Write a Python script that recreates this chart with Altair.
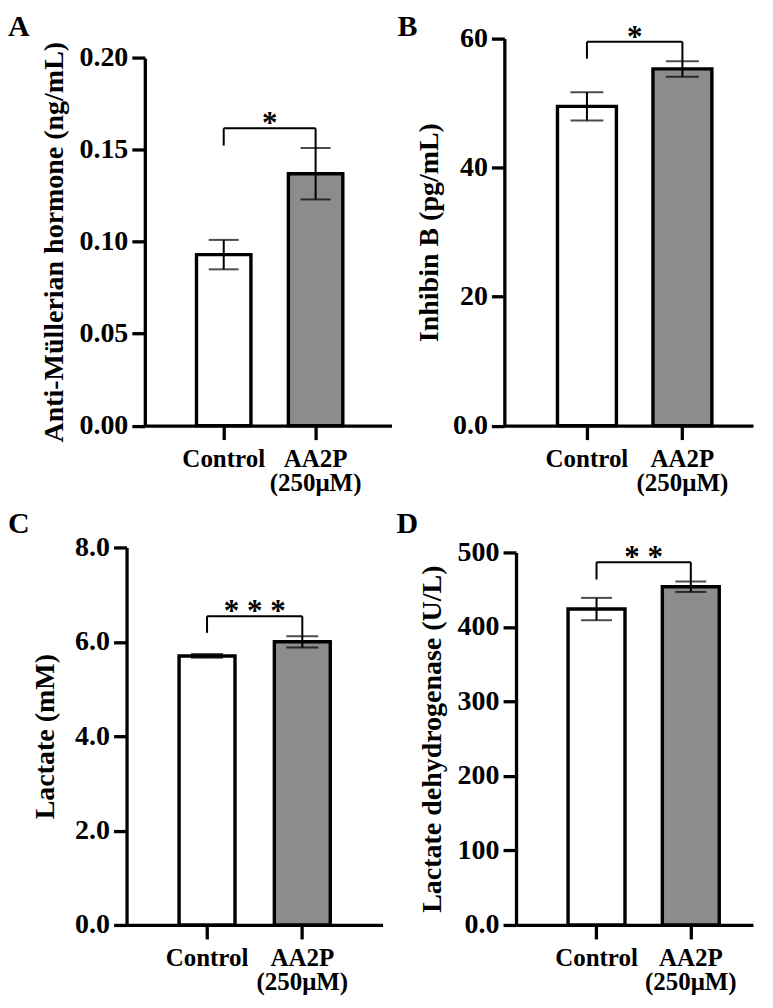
import altair as alt
import pandas as pd

FONT = "Liberation Serif"

categories = ["Control", "AA2P (250μM)"]
fills = ["#ffffff", "#8c8c8c"]

amh_mean = [0.093, 0.137]
amh_sem = [0.008, 0.014]
inh_mean = [49.5, 55.3]
inh_sem = [2.2, 1.2]
lac_mean = [5.70, 6.00]
lac_sem = [0.04, 0.12]
ldh_mean = [424, 454]
ldh_sem = [15, 7]

y_titles = ["Anti-Müllerian hormone (ng/mL)", "Inhibin B (pg/mL)",
            "Lactate (mM)", "Lactate dehydrogenase (U/L)"]
ticks_a = [0, 0.05, 0.10, 0.15, 0.20]
ticks_b = [0, 20, 40, 60]
ticks_c = [0, 2, 4, 6, 8]
ticks_d = [0, 100, 200, 300, 400, 500]
bracket_top = [0.1617, 59.5, 6.54, 486.7]
bracket_left_bottom = [0.1523, 56.9, 6.19, 463.7]
stars = ["*", "*", "* * *", "* *"]
letters = ["A", "B", "C", "D"]


def panel(i, means, sems, ticks, label_expr, W, H, xr, yr, step, bw, c0, cap,
          letter_xy, title_x, axis_offset=0, anchor=None):
    df = pd.DataFrame({
        "cat": categories,
        "mean": means,
        "lo": [m - s for m, s in zip(means, sems)],
        "hi": [m + s for m, s in zip(means, sems)],
        "fill": fills,
    })
    br = pd.DataFrame({
        "c1": [categories[0]], "c2": [categories[1]],
        "top": [bracket_top[i]], "lb": [bracket_left_bottom[i]],
        "rb": [means[1] + sems[1]], "star": [stars[i]],
    })
    lt = pd.DataFrame({"t": [letters[i]]})
    span = xr[1] - xr[0]
    left = c0 - bw / 2
    right = span - step - bw - left
    p_in = 1 - bw / step
    p_out = (left + right) / (2 * step)
    xs = alt.Scale(domain=categories, range=list(xr), paddingInner=p_in, paddingOuter=p_out,
                   align=left / (left + right))
    ys = alt.Scale(domain=[ticks[0], ticks[-1]], range=list(yr), nice=False, zero=True)
    xaxis = alt.Axis(title=None, labelExpr="split(datum.label, ' ')", labelAngle=0,
                     labelFontSize=25, labelLineHeight=24, labelPadding=7, tickSize=14,
                     labelOverlap=False, labelFlush=False)
    yaxis = alt.Axis(title=y_titles[i], values=ticks, labelExpr=label_expr,
                     titleX=title_x, titleY=(yr[0] + yr[1]) / 2, titleBaseline="middle",
                     titleAngle=-90, titleAlign="center", tickSize=13, labelPadding=4,
                     labelFontSize=28, titleFontSize=28, offset=axis_offset)

    def X(f):
        return alt.X(f, type="nominal", scale=xs, sort=categories, axis=xaxis)

    def Y(f):
        return alt.Y(f, type="quantitative", scale=ys, axis=yaxis)

    base = alt.Chart(df)
    bars = base.mark_bar(stroke="black", strokeWidth=3.4).encode(
        x=X("cat"), y=Y("mean"), fill=alt.Fill("fill:N", scale=None))
    err = base.mark_rule(color="black", strokeWidth=2).encode(
        x=X("cat"), y=Y("lo"), y2="hi")
    cap_hi = base.mark_tick(color="black", thickness=2, size=cap).encode(x=X("cat"), y=Y("hi"))
    cap_lo = base.mark_tick(color="black", thickness=2, size=cap).encode(x=X("cat"), y=Y("lo"))
    bb = alt.Chart(br)
    hrule = bb.mark_rule(color="black", strokeWidth=2).encode(x=X("c1"), x2="c2", y=Y("top"))
    lleg = bb.mark_rule(color="black", strokeWidth=2).encode(x=X("c1"), y=Y("top"), y2="lb")
    rleg = bb.mark_rule(color="black", strokeWidth=2).encode(x=X("c2"), y=Y("top"), y2="rb")
    star = bb.mark_text(font=FONT, fontWeight="bold", fontSize=31, dx=step / 2, dy=5,
                        baseline="alphabetic", align="center", color="black").encode(
        x=X("c1"), y=Y("top"), text="star:N")
    letter = alt.Chart(lt).mark_text(font=FONT, fontWeight="bold", fontSize=30,
                                     align="left", baseline="alphabetic", color="black").encode(
        x=alt.value(letter_xy[0]), y=alt.value(letter_xy[1]), text="t:N")
    layers = [bars, err, cap_hi, cap_lo, hrule, lleg, rleg, star, letter]
    if anchor is not None:
        layers.append(alt.Chart(lt).mark_rule(opacity=0, strokeWidth=0).encode(
            x=alt.value(anchor[0]), x2=alt.value(anchor[0]),
            y=alt.value(anchor[1]), y2=alt.value(anchor[1])))
    return alt.layer(*layers).properties(width=W, height=H)


zero_expr = "datum.value == 0 ? '0.0' : format(datum.value, 'd')"
H1 = 387.5
H2 = 378
RIGHT = 754 - 516.7
pa = panel(0, amh_mean, amh_sem, ticks_a, "format(datum.value, '.2f')",
           247, H1, (0, 247), (H1, 19.3), 92, 54.5, 79, 30, (-137, -2.2), -90,
           anchor=(-137, -33.7))
pb = panel(1, inh_mean, inh_sem, ticks_b, zero_expr,
           RIGHT, H1, (-11.7, RIGHT), (H1, 0), 95.6, 59, 82.7, 33, (-118.7, -2.2), -74.5,
           axis_offset=11.7)
pc = panel(2, lac_mean, lac_sem, ticks_c, "format(datum.value, '.1f')",
           238, H2, (-18.3, 238), (H2, 0), 95.4, 56, 80.6, 32, (-137, -14.7), -80.9,
           axis_offset=18.3)
pd_ = panel(3, ldh_mean, ldh_sem, ticks_d, zero_expr,
            RIGHT, H2, (0, RIGHT), (H2, 5), 94.4, 57, 80.6, 31, (-119.7, -14.7), -83.4,
            anchor=(RIGHT + 2, 448.3))

chart = alt.concat(pa, pb, pc, pd_, columns=2, bounds="flush", align="each",
                   spacing={"row": 121.5, "column": 124.7}).properties(
    padding={"left": 0, "top": -4, "right": 0, "bottom": 0}
).configure_view(stroke=None).configure_axis(
    grid=False, domainColor="black", domainWidth=3.3, tickColor="black", tickWidth=3.3,
    labelColor="black", titleColor="black", labelFont=FONT, titleFont=FONT,
    labelFontWeight="bold", titleFontWeight="bold"
)

chart.save("out.html", embed_options={"renderer": "svg", "actions": False})
